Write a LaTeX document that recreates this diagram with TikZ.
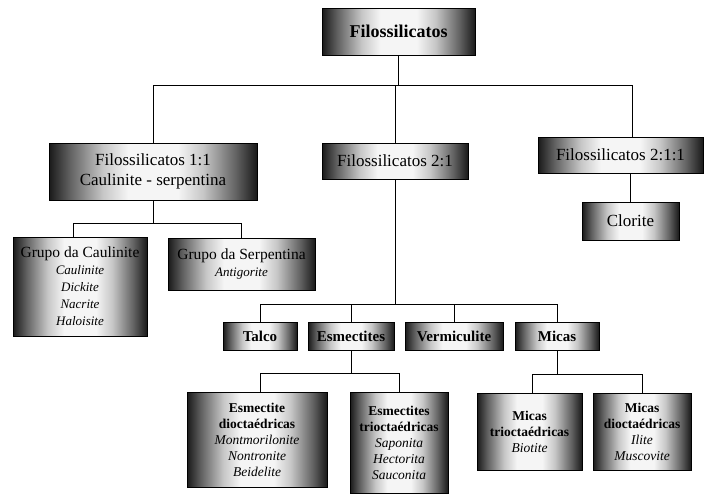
\documentclass[tikz,border=0pt]{standalone}
\usepackage{fontspec}
\setmainfont{Liberation Serif}
\pgfdeclarehorizontalshading{boxshade}{100bp}{color(0bp)=(black!90); color(25bp)=(black!90); color(30bp)=(black!62); color(38bp)=(black!22); color(44bp)=(black!4); color(56bp)=(black!4); color(62bp)=(black!22); color(70bp)=(black!62); color(75bp)=(black!90); color(100bp)=(black!90)}
\begin{document}
\begin{tikzpicture}[x=1pt,y=-1pt,
  box/.style={draw=black, line width=0.9pt, shade, shading=boxshade, align=center, inner sep=0pt},
  conn/.style={draw=black, line width=1pt},
  lvltop/.style={box, font=\fontsize{18}{20}\selectfont\bfseries},
  lvltwo/.style={box, font=\fontsize{17}{20}\selectfont},
  grp/.style={box, font=\fontsize{15.5}{17}\selectfont},
  sub/.style={box, font=\fontsize{15}{16}\selectfont\bfseries},
  low/.style={box, font=\fontsize{13.5}{16}\selectfont\bfseries}]
\useasboundingbox (0,0) rectangle (713,496);

% level 0
\node[lvltop, minimum width=153pt, minimum height=47pt] (top) at (398.5,31.5) {Filossilicatos};

% level 1
\node[lvltwo, minimum width=208pt, minimum height=57pt] (f11) at (153,171.5) {Filossilicatos 1:1\\Caulinite - serpentina};
\node[lvltwo, minimum width=146pt, minimum height=36pt] (f21) at (395,161) {Filossilicatos 2:1};
\node[lvltwo, minimum width=165pt, minimum height=36pt] (f211) at (620.5,155) {Filossilicatos 2:1:1};

% level 2
\node[lvltwo, minimum width=97pt, minimum height=38pt] (clor) at (630.5,221) {Clorite};
\node[grp, minimum width=134pt, minimum height=99pt] (gcaul) at (80,286.5) {Grupo da Caulinite\\{\itshape\fontsize{13}{16}\selectfont Caulinite}\\{\itshape\fontsize{13}{16}\selectfont Dickite}\\{\itshape\fontsize{13}{16}\selectfont Nacrite}\\{\itshape\fontsize{13}{16}\selectfont Haloisite}};
\node[grp, minimum width=147pt, minimum height=52pt] (gserp) at (241.5,264) {Grupo da Serpentina\\{\itshape\fontsize{13}{16}\selectfont Antigorite}};

\node[sub, minimum width=74pt, minimum height=28pt] (talco) at (260,336) {Talco};
\node[sub, minimum width=86pt, minimum height=28pt] (esm) at (351,336) {Esmectites};
\node[sub, minimum width=98pt, minimum height=28pt] (verm) at (454,336) {Vermiculite};
\node[sub, minimum width=84pt, minimum height=28pt] (micas) at (557,336) {Micas};

% level 3
\node[low, minimum width=140pt, minimum height=95pt] (edi) at (257,439.5) {Esmectite\\dioctaédricas\\{\mdseries\itshape Montmorilonite}\\{\mdseries\itshape Nontronite}\\{\mdseries\itshape Beidelite}};
\node[low, minimum width=98pt, minimum height=101pt] (etri) at (399,442.5) {Esmectites\\trioctaédricas\\{\mdseries\itshape Saponita}\\{\mdseries\itshape Hectorita}\\{\mdseries\itshape Sauconita}};
\node[low, minimum width=105pt, minimum height=77pt] (mtri) at (529.5,431.5) {Micas\\trioctaédricas\\{\mdseries\itshape Biotite}};
\node[low, minimum width=98pt, minimum height=77pt] (mdi) at (642,431.5) {Micas\\dioctaédricas\\{\mdseries\itshape Ilite}\\{\mdseries\itshape Muscovite}};

% connectors
\draw[conn] (top.south) -- (top.south |- 0,85);
\draw[conn] (f11.north) |- ([xshift=12pt]f211.north |- 0,85) -- ([xshift=12pt]f211.north);
\draw[conn] (f21.north) -- (f21.north |- 0,85);

\draw[conn] (f11.south) -- (f11.south |- 0,223);
\draw[conn] ([xshift=-7pt]gcaul.north) |- (gserp.north |- 0,223) -- (gserp.north);

\draw[conn] (f211.south -| clor.north) -- (clor.north);

\draw[conn] (f21.south) -- (f21.south |- 0,304);
\draw[conn] (talco.north) |- (micas.north |- 0,304) -- (micas.north);
\draw[conn] (esm.north) -- (esm.north |- 0,304);
\draw[conn] (verm.north) -- (verm.north |- 0,304);

\draw[conn] (esm.south) -- (esm.south |- 0,373);
\draw[conn] ([xshift=3pt]edi.north) |- (etri.north |- 0,373) -- (etri.north);

\draw[conn] (micas.south) -- (micas.south |- 0,374);
\draw[conn] ([xshift=2.5pt]mtri.north) |- (mdi.north |- 0,374) -- (mdi.north);
\end{tikzpicture}
\end{document}
